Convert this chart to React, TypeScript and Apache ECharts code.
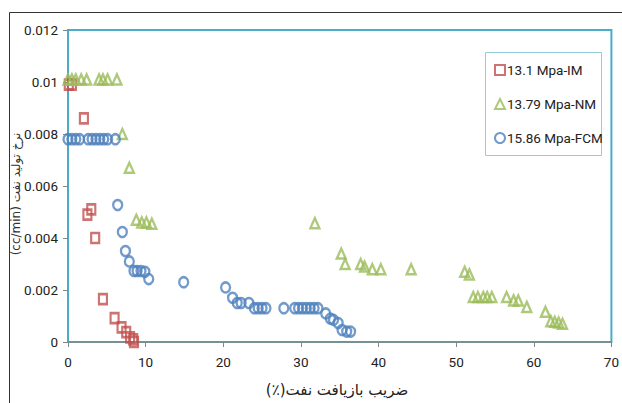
import React, { useEffect, useRef } from "react";
import * as echarts from "echarts";

const xTicks = [0, 10, 20, 30, 40, 50, 60, 70];
const yTicks = [0, 0.002, 0.004, 0.006, 0.008, 0.01, 0.012];

const seriesNames = ["13.1 Mpa-IM", "13.79 Mpa-NM", "15.86 Mpa-FCM"];

const imX = [0.1, 0.5, 2.05, 2.5, 3.0, 3.5, 4.5, 6.0, 6.9, 7.5, 8.0, 8.4, 8.5];
const imY = [0.0099, 0.0099, 0.0086, 0.0049, 0.0051, 0.004, 0.00165, 0.00092, 0.00056, 0.00038, 0.00018, 0.0001, 0.0];

const nmX = [0.0, 0.5, 1.0, 1.7, 2.4, 4.0, 4.5, 5.1, 6.3, 7.0, 7.9, 8.8, 9.5, 10.1, 10.8, 31.8, 35.2, 35.7, 37.7, 38.2, 39.2, 40.3, 44.2, 51.1, 51.7, 52.2, 52.8, 53.5, 54.0, 54.6, 56.5, 57.4, 58.0, 59.1, 61.5, 62.2, 62.7, 63.2, 63.7];
const nmY = [0.0101, 0.0101, 0.0101, 0.0101, 0.0101, 0.0101, 0.0101, 0.0101, 0.0101, 0.008, 0.0067, 0.0047, 0.0046, 0.0046, 0.00455, 0.00457, 0.0034, 0.003, 0.003, 0.0029, 0.0028, 0.0028, 0.0028, 0.0027, 0.0026, 0.00173, 0.00173, 0.00173, 0.00173, 0.00173, 0.00173, 0.0016, 0.0016, 0.00135, 0.00116, 0.0008, 0.00078, 0.00075, 0.0007];

const fcmX = [0.0, 0.5, 1.0, 1.5, 2.6, 3.1, 3.6, 4.1, 4.6, 5.1, 6.1, 6.4, 7.0, 7.4, 7.9, 8.5, 8.9, 9.4, 9.9, 10.4, 14.9, 20.3, 21.2, 21.8, 22.3, 23.3, 24.0, 24.5, 25.0, 25.5, 27.8, 29.2, 29.7, 30.2, 30.7, 31.2, 31.7, 32.2, 33.2, 33.8, 34.2, 34.8, 35.3, 35.9, 36.4];
const fcmY = [0.0078, 0.0078, 0.0078, 0.0078, 0.0078, 0.0078, 0.0078, 0.0078, 0.0078, 0.0078, 0.0078, 0.00527, 0.00423, 0.0035, 0.0031, 0.00273, 0.00273, 0.00273, 0.0027, 0.00242, 0.0023, 0.0021, 0.0017, 0.0015, 0.0015, 0.0015, 0.0013, 0.0013, 0.0013, 0.0013, 0.0013, 0.0013, 0.0013, 0.0013, 0.0013, 0.0013, 0.0013, 0.0013, 0.0011, 0.0009, 0.00085, 0.00073, 0.00046, 0.0004, 0.0004];

const zip = (xs: number[], ys: number[]) => xs.map((x, i) => [x, ys[i]]);

const FONT = "Roboto, 'Liberation Sans', sans-serif";

export default function App() {
  const ref = useRef<HTMLDivElement>(null);
  useEffect(() => {
    if (!ref.current) return;
    const chart = echarts.init(ref.current, null, { renderer: "svg" });
    chart.setOption({
      animation: false,
      backgroundColor: "#ffffff",
      textStyle: { fontFamily: FONT },
      grid: {
        left: 68,
        top: 30,
        right: 8,
        bottom: 61,
        show: true,
        borderColor: "#4bacc6",
        borderWidth: 2,
        backgroundColor: "transparent",
      },
      legend: {
        orient: "vertical",
        left: 494,
        top: 63,
        padding: 0,
        itemGap: 20,
        itemWidth: 10,
        itemHeight: 10,
        textStyle: { fontFamily: FONT, fontSize: 13.5, color: "#222", lineHeight: 14, padding: [0, 0, 0, -3] },
        data: seriesNames,
      },
      xAxis: {
        type: "value",
        min: 0,
        max: 70,
        interval: 10,
        splitLine: { show: false },
        axisLine: { show: true, onZero: false, lineStyle: { color: "#868686", width: 1.5 } },
        axisTick: { show: true, length: 5, lineStyle: { color: "#868686" } },
        axisLabel: {
          margin: 13,
          fontSize: 13.5,
          color: "#222",
          fontFamily: FONT,
          customValues: xTicks,
        },
      },
      yAxis: {
        type: "value",
        min: 0,
        max: 0.012,
        interval: 0.002,
        splitLine: { show: false },
        axisLine: { show: true, onZero: false, lineStyle: { color: "#4bacc6", width: 2 } },
        axisTick: { show: true, length: 5, lineStyle: { color: "#868686" } },
        axisLabel: {
          margin: 10,
          fontSize: 13.5,
          color: "#222",
          fontFamily: FONT,
          formatter: (v: number) => {
            const t = yTicks.find((k) => Math.abs(k - v) < 1e-9);
            return String(t !== undefined ? t : v);
          },
        },
      },
      series: [
        {
          name: seriesNames[0],
          type: "scatter",
          symbol: "rect",
          symbolSize: [8, 10],
          data: zip(imX, imY),
          itemStyle: { color: "rgba(255,255,255,0)", borderColor: "#c0504d", borderWidth: 2.4 },
        },
        {
          name: seriesNames[1],
          type: "scatter",
          symbol: "triangle",
          symbolSize: [9, 10],
          data: zip(nmX, nmY),
          itemStyle: { color: "rgba(255,255,255,0)", borderColor: "#9bbb59", borderWidth: 2.4 },
        },
        {
          name: seriesNames[2],
          type: "scatter",
          symbol: "circle",
          symbolSize: [9, 10],
          data: zip(fcmX, fcmY),
          itemStyle: { color: "rgba(255,255,255,0)", borderColor: "#4f81bd", borderWidth: 2.4 },
        },
      ],
      graphic: [
        {
          type: "rect",
          left: 7,
          top: 10,
          shape: { x: 0, y: 0, width: 700, height: 500 },
          style: { fill: "none", stroke: "#333", lineWidth: 1 },
          silent: true,
          z: -10,
        },
        {
          type: "rect",
          shape: { x: 485.5, y: 52.5, width: 116, height: 103 },
          style: { fill: "#ffffff", stroke: "#93cddd", lineWidth: 1 },
          silent: true,
          z: 2,
        },
        {
          type: "text",
          x: 16,
          y: 194,
          rotation: Math.PI / 2,
          style: {
            text: "(cc/min) نرخ تولید نفت",
            fontSize: 12,
            fontFamily: "'DejaVu Sans', sans-serif",
            fill: "#333",
            align: "center",
            verticalAlign: "middle",
          },
        },
        {
          type: "text",
          x: 337,
          y: 390,
          style: {
            text: "(٪)ضریب بازیافت نفت",
            fontSize: 15,
            fontFamily: "'DejaVu Sans', sans-serif",
            fill: "#222",
            align: "center",
            verticalAlign: "middle",
          },
        },
      ],
    });
    return () => chart.dispose();
  }, []);
  return (
    <div
      ref={ref}
      style={{ position: "fixed", left: 0, top: 0, width: 622, height: 403 }}
    />
  );
}
